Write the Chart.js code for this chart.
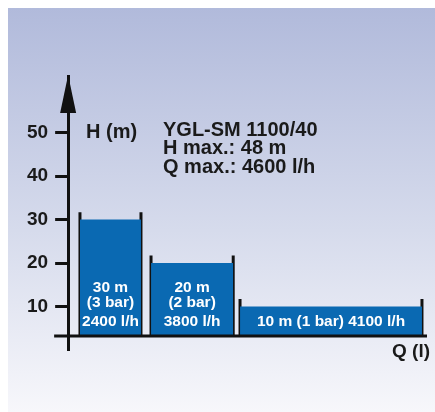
<!DOCTYPE html>
<html>
<head>
<meta charset="utf-8">
<script src="https://cdn.jsdelivr.net/npm/chart.js@4"></script>
<style>
  html, body { margin: 0; padding: 0; background: #fff; }
  #wrap { width: 435px; height: 412px; }
</style>
</head>
<body>
<div id="wrap"><canvas id="chart" width="435" height="412"></canvas></div>
<script>
// pump working points
const heads = [30, 20, 10];
const pressures = ["3 bar", "2 bar", "1 bar"];
const flows = [2400, 3800, 4100];
// span of each bar along the Q axis (axis runs 0..100)
const qFrom = [3.3, 23.1, 47.9];
const qTo = [20.3, 46.0, 98.6];
const yTicks = [10, 20, 30, 40, 50];
const baseH = 3.2;
const titleLines = ["YGL-SM 1100/40", "H max.: 48 m", "Q max.: 4600 l/h"];

const FONT = "'Liberation Sans', Arial, sans-serif";
const BLUE = "#0a69b2";

let datasets = [];
for (let i = 0; i < heads.length; i++) {
    datasets.push({
        data: [{x: qFrom[i], y: heads[i]}, {x: qTo[i], y: heads[i]}],
        borderWidth: 0,
        pointRadius: 0,
        backgroundColor: BLUE,
        fill: {value: baseH}
    });
    // black side posts
    datasets.push({
        data: [
            {x: qFrom[i], y: baseH}, {x: qFrom[i], y: heads[i] + 1.7}, {x: qFrom[i], y: null},
            {x: qTo[i], y: heads[i] + 1.7}, {x: qTo[i], y: baseH}
        ],
        borderColor: "#111",
        borderWidth: 3,
        pointRadius: 0,
        spanGaps: false,
        fill: false
    });
}

const decor = {
    id: "decor",
    beforeDraw(chart) {
        let ctx = chart.ctx;
        let g = ctx.createLinearGradient(0, 8, 0, 412);
        g.addColorStop(0, "#b1badb");
        g.addColorStop(0.55, "#d6dbec");
        g.addColorStop(1, "#f7f7fb");
        ctx.fillStyle = g;
        ctx.fillRect(8, 8, 427, 404);
    },
    afterDraw(chart) {
        let ctx = chart.ctx;
        let xs = chart.scales.x, ys = chart.scales.y;
        let a = chart.chartArea;
        let yb = ys.getPixelForValue(baseH);
        ctx.save();
        // Q axis line
        ctx.strokeStyle = "#111";
        ctx.lineWidth = 3;
        ctx.beginPath();
        ctx.moveTo(a.left - 14, yb);
        ctx.lineTo(a.right, yb);
        ctx.stroke();
        // arrow head
        ctx.fillStyle = "#111";
        ctx.beginPath();
        ctx.moveTo(a.left, a.top - 1);
        ctx.lineTo(a.left - 8, a.top + 37);
        ctx.lineTo(a.left + 8, a.top + 37);
        ctx.closePath();
        ctx.fill();

        ctx.fillStyle = "#1a1a1a";
        ctx.textBaseline = "middle";
        ctx.textAlign = "left";
        ctx.font = "bold 20px " + FONT;
        ctx.fillText("H (m)", 86, 132);
        for (let i = 0; i < titleLines.length; i++) {
            ctx.fillText(titleLines[i], 163, 130 + i * 18.5);
        }
        ctx.font = "bold 19px " + FONT;
        ctx.fillText("Q (l)", 392, 352);

        // bar labels
        ctx.fillStyle = "#fff";
        ctx.textAlign = "center";
        ctx.font = "bold 15.5px " + FONT;
        for (let i = 0; i < heads.length; i++) {
            let cx = xs.getPixelForValue((qFrom[i] + qTo[i]) / 2);
            let yl = yb - 14;
            if (i < 2) {
                ctx.fillText(heads[i] + " m", cx, yl - 34);
                ctx.fillText("(" + pressures[i] + ")", cx, yl - 19);
                ctx.fillText(flows[i] + " l/h", cx, yl);
            } else {
                ctx.fillText(heads[i] + " m (" + pressures[i] + ") " + flows[i] + " l/h", cx, yl);
            }
        }
        ctx.restore();
    }
};

new Chart(document.getElementById("chart"), {
    type: "line",
    data: {datasets: datasets},
    options: {
        responsive: false,
        animation: false,
        layout: {padding: {left: 20, right: 8, top: 76, bottom: 62}},
        plugins: {legend: {display: false}, tooltip: {enabled: false}},
        scales: {
            x: {type: "linear", min: 0, max: 100, display: false},
            y: {
                min: 0,
                max: 63,
                afterBuildTicks(axis) {
                    axis.ticks = yTicks.map(v => ({value: v}));
                },
                grid: {
                    drawOnChartArea: false,
                    drawTicks: true,
                    tickLength: 13,
                    tickWidth: 3,
                    tickColor: "#111"
                },
                border: {display: true, color: "#111", width: 3},
                ticks: {
                    color: "#1a1a1a",
                    padding: 7,
                    font: {family: FONT, size: 19, weight: "bold"}
                }
            }
        }
    },
    plugins: [decor]
});
</script>
</body>
</html>
